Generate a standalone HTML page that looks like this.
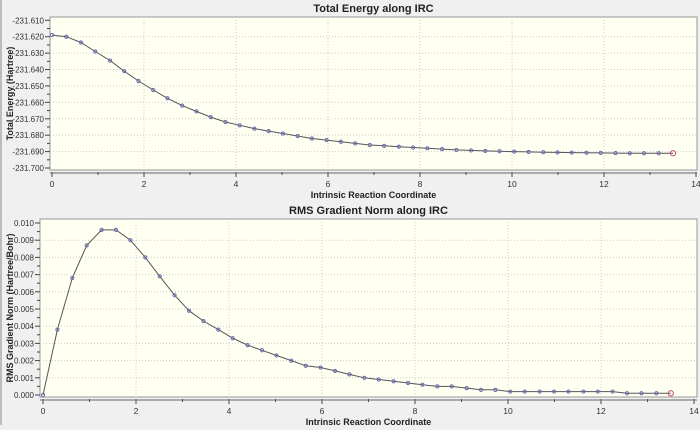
<!DOCTYPE html>
<html><head><meta charset="utf-8"><style>
body{margin:0;background:#f0f0f0;font-family:"Liberation Sans",sans-serif;}
svg text{font-family:"Liberation Sans",sans-serif;}
</style></head><body>
<svg id="s" width="700" height="425">
<rect x="0" y="0" width="700" height="425" fill="#f0f0f0"/>
<line x1="1" y1="0" x2="1" y2="425" stroke="#888"/>
</svg>
<script>
const xs=[0,0.31,0.63,0.94,1.26,1.57,1.88,2.2,2.51,2.83,3.14,3.45,3.77,4.08,4.4,4.71,5.02,5.34,5.65,5.97,6.28,6.59,6.91,7.22,7.54,7.85,8.16,8.48,8.79,9.11,9.42,9.73,10.05,10.36,10.68,10.99,11.3,11.62,11.93,12.25,12.56,12.87,13.19,13.5];
const energy=[-231.619,-231.620,-231.6235,-231.629,-231.6345,-231.641,-231.647,-231.6525,-231.6575,-231.662,-231.6655,-231.669,-231.672,-231.674,-231.676,-231.6775,-231.679,-231.6805,-231.682,-231.683,-231.684,-231.685,-231.686,-231.6865,-231.687,-231.6875,-231.688,-231.6885,-231.689,-231.6893,-231.6896,-231.6898,-231.690,-231.6902,-231.6904,-231.6905,-231.6906,-231.6907,-231.6908,-231.6909,-231.691,-231.691,-231.691,-231.691];
const grad=[0,0.0038,0.0068,0.0087,0.0096,0.0096,0.0090,0.0080,0.0069,0.0058,0.0049,0.0043,0.0038,0.0033,0.0029,0.0026,0.0023,0.0020,0.0017,0.0016,0.0014,0.0012,0.0010,0.0009,0.0008,0.0007,0.0006,0.0005,0.0005,0.0004,0.0003,0.0003,0.0002,0.0002,0.0002,0.0002,0.0002,0.0002,0.0002,0.0002,0.0001,0.0001,0.0001,0.0001];
const xTicks=[0,2,4,6,8,10,12,14];
const eTicks=[-231.61,-231.62,-231.63,-231.64,-231.65,-231.66,-231.67,-231.68,-231.69,-231.70];
const gTicks=[0,0.001,0.002,0.003,0.004,0.005,0.006,0.007,0.008,0.009,0.010];
const NS="http://www.w3.org/2000/svg";
const svg=document.getElementById('s');
function mk(t,a,txt){const e=document.createElementNS(NS,t);for(const k in a)e.setAttribute(k,a[k]);if(txt!==undefined)e.textContent=txt;svg.appendChild(e);return e;}
function chart(c){
 const X=v=>c.x0+(v-0)/(14-0)*(c.x14-c.x0);
 const Y=v=>c.yb+(v-c.ymin)/(c.ymax-c.ymin)*(c.yt-c.yb);
 let e=mk('rect',{x:c.L,y:c.T,width:c.R-c.L,height:c.B-c.T,fill:'#fffff2',stroke:'#999'});
 
 
 e=mk('text',{x:(c.L+c.R)/2,y:c.T-5,'text-anchor':'middle','font-size':'11','font-weight':'bold',fill:'#222'},c.title);
 
 
 xTicks.forEach((t,i)=>{const px=X(t);
  if(i>0&&i<xTicks.length-1) mk('line',{x1:px,y1:c.T,x2:px,y2:c.B,stroke:'#ccc','stroke-dasharray':'1,2'});
  mk('line',{x1:px,y1:c.B+2,x2:px,y2:c.B+7,stroke:'#444'});
  if(i<xTicks.length-1) mk('line',{x1:X(t+1),y1:c.B+2,x2:X(t+1),y2:c.B+5,stroke:'#444'});
  e=mk('text',{x:px,y:c.B+17,'text-anchor':'middle','font-size':'8.5',fill:'#333'},t);
  
  
 });
 mk('line',{x1:c.L,y1:c.B+3,x2:c.R,y2:c.B+3,stroke:'#666'});
 c.ticks.forEach((t,i)=>{const py=Y(t);
  if(i>0&&i<c.ticks.length-1) mk('line',{x1:c.L,y1:py,x2:c.R,y2:py,stroke:'#ccc','stroke-dasharray':'1,2'});
  mk('line',{x1:c.L-5,y1:py,x2:c.L,y2:py,stroke:'#444'});
  if(i<c.ticks.length-1) mk('line',{x1:c.L-3,y1:(py+Y(c.ticks[i+1]))/2,x2:c.L,y2:(py+Y(c.ticks[i+1]))/2,stroke:'#444'});
  e=mk('text',{x:c.L-6,y:py+3,'text-anchor':'end','font-size':'8',fill:'#333'},t.toFixed(3));
  
  
 });
 e=mk('text',{x:(c.L+c.R)/2,y:c.B+28,'text-anchor':'middle','font-size':'9','font-weight':'bold',fill:'#222'},'Intrinsic Reaction Coordinate');
 
 
 e=mk('text',{x:0,y:0,transform:`translate(${c.yl},${(c.T+c.B)/2}) rotate(-90)`,'text-anchor':'middle','font-size':'9','font-weight':'bold',fill:'#222'},c.ylabel);
 
 
 const pts=xs.map((x,i)=>X(x).toFixed(1)+','+Y(c.data[i]).toFixed(1)).join(' ');
 e=mk('polyline',{points:pts,fill:'none',stroke:'#555','stroke-width':'1'});
 
 
 xs.forEach((x,i)=>{const last=i===xs.length-1;
  e=mk('circle',{cx:X(x),cy:Y(c.data[i]),r:last?2.6:1.6,fill:'none',stroke:last?'#c05070':'#6a6ab0','stroke-width':'1'});
  
  
 });
}
chart({id:'energy',title:'Total Energy along IRC',ylabel:'Total Energy (Hartree)',data:energy,ticks:eTicks,
 L:50,R:697,T:17,B:170,x0:52,x14:696,yt:20.3,yb:168,ymax:-231.61,ymin:-231.70,yl:13});
chart({id:'gradient',title:'RMS Gradient Norm along IRC',ylabel:'RMS Gradient Norm (Hartree/Bohr)',data:grad,ticks:gTicks,
 L:40,R:697,T:219,B:397,x0:43,x14:694,yt:223,yb:395,ymax:0.010,ymin:0,yl:13});
</script>
</body></html>
